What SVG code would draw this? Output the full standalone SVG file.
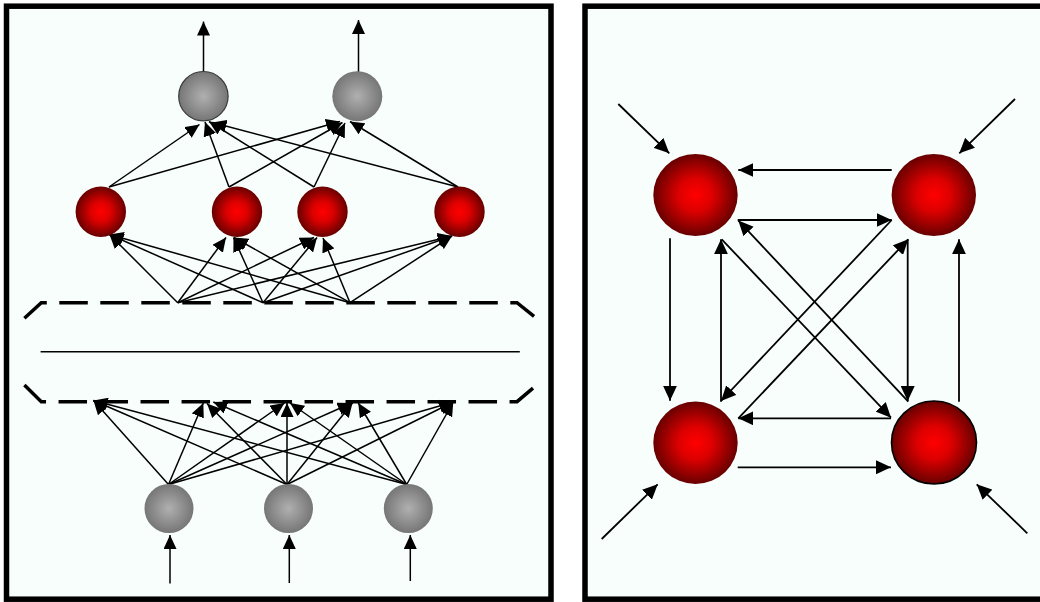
<svg xmlns="http://www.w3.org/2000/svg" width="1040" height="602" viewBox="0 0 1040 602">
<defs>
<radialGradient id="red" cx="50%" cy="50%" r="50%">
<stop offset="0" stop-color="#ff0000"/>
<stop offset="0.4" stop-color="#dd0000"/>
<stop offset="1" stop-color="#680000"/>
</radialGradient>
<radialGradient id="gray" cx="50%" cy="50%" r="50%">
<stop offset="0" stop-color="#b0b0b0"/>
<stop offset="1" stop-color="#767676"/>
</radialGradient>
<marker id="ah" viewBox="0 0 14 13" refX="14" refY="6.5" markerWidth="14" markerHeight="13" markerUnits="userSpaceOnUse" orient="auto">
<path d="M0,0 L14,6.5 L0,13 z" fill="#000"/>
</marker>
<marker id="ahR" viewBox="0 0 15 14" refX="15" refY="7" markerWidth="15" markerHeight="14" markerUnits="userSpaceOnUse" orient="auto">
<path d="M0,0 L15,7 L0,14 z" fill="#000"/>
</marker>
</defs>
<style>
.panel{fill:#f8fefb;stroke:#000;stroke-width:5.5}
.l{fill:none;stroke:#000;stroke-width:1.5;marker-end:url(#ah)}
.r{fill:none;stroke:#000;stroke-width:1.8;marker-end:url(#ahR)}
.dash{fill:none;stroke:#000;stroke-width:3.5;stroke-dasharray:28.5 12.5}
.solid{fill:none;stroke:#000;stroke-width:1.5}
.rednode{fill:url(#red)}
.graynode{fill:url(#gray)}
</style>
<rect width="1040" height="602" fill="#ffffff"/>
<g id="panel-left"><rect class="panel" x="6.5" y="6.2" width="544.5" height="593"/></g>
<g id="panel-right"><rect class="panel" x="585" y="6.2" width="470" height="593"/></g>

<g id="layer-box">
<path class="dash" d="M24.4,318.3 L41.3,302.7 L517,302.7 L536.6,318.3"/>
<path class="dash" d="M24.4,385 L41.3,401.7 L517,401.7 L536.6,385"/>
<line class="solid" x1="40.6" y1="351.7" x2="519.8" y2="351.7"/>
</g>

<g id="connectors">
<line class="l" x1="203.5" y1="72" x2="203.5" y2="21.5"/>
<line class="l" x1="358.5" y1="72" x2="358.5" y2="20"/>
<line class="l" x1="109" y1="187" x2="199.5" y2="124.5"/>
<line class="l" x1="109" y1="187" x2="340" y2="121.5"/>
<line class="l" x1="229" y1="187" x2="205" y2="122"/>
<line class="l" x1="229" y1="187" x2="342.5" y2="122.5"/>
<line class="l" x1="314" y1="187" x2="209" y2="121.5"/>
<line class="l" x1="314" y1="187" x2="345" y2="123"/>
<line class="l" x1="458" y1="187" x2="212.5" y2="122.5"/>
<line class="l" x1="458" y1="187" x2="350" y2="121.5"/>
<line class="l" x1="177.7" y1="302.7" x2="109.5" y2="234.5"/>
<line class="l" x1="263" y1="302.7" x2="109.5" y2="234.5"/>
<line class="l" x1="350" y1="302.7" x2="109.5" y2="234.5"/>
<line class="l" x1="177.7" y1="302.7" x2="226" y2="237.5"/>
<line class="l" x1="263" y1="302.7" x2="233.5" y2="237.5"/>
<line class="l" x1="350" y1="302.7" x2="234" y2="237.5"/>
<line class="l" x1="177.7" y1="302.7" x2="314" y2="237.5"/>
<line class="l" x1="263" y1="302.7" x2="317" y2="237.5"/>
<line class="l" x1="350" y1="302.7" x2="323" y2="238"/>
<line class="l" x1="177.7" y1="302.7" x2="452" y2="236"/>
<line class="l" x1="263" y1="302.7" x2="452" y2="236"/>
<line class="l" x1="350" y1="302.7" x2="452" y2="236"/>
<line class="l" x1="168.5" y1="484.5" x2="93.5" y2="400.5"/>
<line class="l" x1="287" y1="484.5" x2="93.5" y2="400.5"/>
<line class="l" x1="406.7" y1="484.5" x2="93.5" y2="400.5"/>
<line class="l" x1="168.5" y1="484.5" x2="203.3" y2="403"/>
<line class="l" x1="287" y1="484.5" x2="207" y2="403.5"/>
<line class="l" x1="406.7" y1="484.5" x2="213.3" y2="402"/>
<line class="l" x1="168.5" y1="484.5" x2="284.5" y2="403"/>
<line class="l" x1="287" y1="484.5" x2="287" y2="403"/>
<line class="l" x1="406.7" y1="484.5" x2="290" y2="403"/>
<line class="l" x1="168.5" y1="484.5" x2="351.7" y2="403"/>
<line class="l" x1="287" y1="484.5" x2="352.5" y2="403"/>
<line class="l" x1="406.7" y1="484.5" x2="358.3" y2="403"/>
<line class="l" x1="168.5" y1="484.5" x2="453.3" y2="402"/>
<line class="l" x1="287" y1="484.5" x2="453.3" y2="402"/>
<line class="l" x1="406.7" y1="484.5" x2="453.3" y2="402"/>
<line class="l" x1="170" y1="583.5" x2="170" y2="535"/>
<line class="l" x1="289.3" y1="583" x2="289.3" y2="535"/>
<line class="l" x1="410.3" y1="581" x2="410.3" y2="535"/>

<line class="r" x1="618.3" y1="104" x2="669.3" y2="153.3"/>
<line class="r" x1="1015" y1="99" x2="959.3" y2="153.3"/>
<line class="r" x1="601.7" y1="539" x2="657.7" y2="484.3"/>
<line class="r" x1="1027.3" y1="533.3" x2="976.7" y2="484.3"/>
<line class="r" x1="891.7" y1="170" x2="738.3" y2="170"/>
<line class="r" x1="737.7" y1="220" x2="891.7" y2="220"/>
<line class="r" x1="670" y1="238.3" x2="670" y2="400.7"/>
<line class="r" x1="721" y1="401.7" x2="721" y2="239.3"/>
<line class="r" x1="907.7" y1="239.3" x2="907.7" y2="401"/>
<line class="r" x1="959" y1="401.7" x2="959" y2="239.3"/>
<line class="r" x1="891" y1="418.3" x2="738.3" y2="418.3"/>
<line class="r" x1="737.7" y1="467.3" x2="891" y2="467.3"/>
<line class="r" x1="908.3" y1="401.7" x2="738.3" y2="220.5"/>
<line class="r" x1="721.7" y1="239.3" x2="891" y2="417.7"/>
<line class="r" x1="891.7" y1="220" x2="721" y2="401"/>
<line class="r" x1="738.3" y1="418.3" x2="908.3" y2="239.3"/>
</g>

<g id="out-1"><circle class="graynode" cx="203.4" cy="96.2" r="24.7" stroke="#3a3a3a" stroke-width="1.2"/></g>
<g id="out-2"><circle class="graynode" cx="357.3" cy="96.2" r="25"/></g>
<g id="hid-1"><circle class="rednode" cx="100.8" cy="211.7" r="25.2"/></g>
<g id="hid-2"><circle class="rednode" cx="237" cy="211.7" r="25.2"/></g>
<g id="hid-3"><circle class="rednode" cx="322.5" cy="211.7" r="25.2"/></g>
<g id="hid-4"><circle class="rednode" cx="459.5" cy="211.7" r="25.2"/></g>
<g id="in-1"><circle class="graynode" cx="169" cy="508.5" r="24.5"/></g>
<g id="in-2"><circle class="graynode" cx="288.5" cy="508.5" r="24.5"/></g>
<g id="in-3"><circle class="graynode" cx="408.3" cy="508.5" r="24.5"/></g>

<g id="rec-tl"><ellipse class="rednode" cx="695.5" cy="195" rx="42.2" ry="41"/></g>
<g id="rec-tr"><ellipse class="rednode" cx="933.8" cy="195" rx="42.2" ry="41"/></g>
<g id="rec-bl"><ellipse class="rednode" cx="695.5" cy="442.8" rx="42.2" ry="41.2"/></g>
<g id="rec-br"><ellipse class="rednode" cx="934" cy="442.5" rx="42.5" ry="41.5" stroke="#000" stroke-width="1.6"/></g>
</svg>
